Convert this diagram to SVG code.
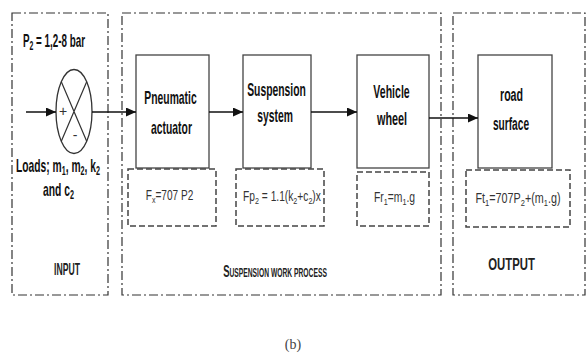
<svg xmlns="http://www.w3.org/2000/svg" width="586" height="355" viewBox="0 0 586 355">
  <style>
    .frame { fill: none; stroke: #333; stroke-width: 1.2; stroke-dasharray: 9 3 2 3; }
    .block { fill: #fff; stroke: #444; stroke-width: 1.3; }
    .eq { fill: none; stroke: #444; stroke-width: 1.5; stroke-dasharray: 6 3; }
    .wire { fill: none; stroke: #111; stroke-width: 1.5; }
    text { text-anchor: middle; }
    .lbl { font-family: "Liberation Sans", Arial, sans-serif; font-weight: bold; font-size: 19px; fill: #111; }
    .in { font-family: "Liberation Sans", Arial, sans-serif; font-weight: bold; font-size: 18px; fill: #111; }
    .tag { font-family: "Liberation Sans", Arial, sans-serif; font-weight: bold; font-size: 16px; fill: #222; }
    .fx { font-family: "Liberation Sans", Arial, sans-serif; font-size: 14px; fill: #333; }
    .cap { font-family: "Liberation Serif", "Times New Roman", serif; font-size: 14px; fill: #444; }
    .sub { font-size: 70%; }
  </style>
  <defs>
    <marker id="head" markerWidth="11" markerHeight="10" refX="10" refY="4.5" orient="auto" markerUnits="userSpaceOnUse">
      <path d="M0,0 L10,4.5 L0,9 Z" fill="#111"/>
    </marker>
  </defs>

  <rect width="586" height="355" fill="#fff"/>

  <!-- stage frames -->
  <g id="input">
    <rect class="frame" x="12" y="13" width="96" height="282"/>
    <text class="in" transform="translate(54,47) scale(0.546,1)">P<tspan class="sub" dy="3">2</tspan><tspan dy="-3"> = 1,2-8 bar</tspan></text>
    <text class="in" transform="translate(58,172) scale(0.571,1)">Loads; m<tspan class="sub" dy="3">1</tspan><tspan dy="-3">, m</tspan><tspan class="sub" dy="3">2</tspan><tspan dy="-3">, k</tspan><tspan class="sub" dy="3">2</tspan></text>
    <text class="in" transform="translate(58.5,196) scale(0.574,1)">and c<tspan class="sub" dy="3">2</tspan></text>
    <text class="tag" transform="translate(67,275) scale(0.54,1)">INPUT</text>
  </g>

  <g id="process">
    <rect class="frame" x="122" y="13" width="319" height="282"/>
    <text class="tag" transform="translate(275,277) scale(0.56,1)"><tspan font-size="17">S</tspan><tspan font-size="12">USPENSION WORK PROCESS</tspan></text>
  </g>

  <g id="output">
    <rect class="frame" x="453" y="13" width="132" height="282"/>
    <text class="tag" transform="translate(511.5,270) scale(0.71,1)">OUTPUT</text>
  </g>

  <!-- summing junction -->
  <g id="junction">
    <ellipse cx="74" cy="111.5" rx="18" ry="42" fill="#fff" stroke="#333" stroke-width="1.3"/>
    <path d="M61.3,81.8 L86.7,141.2 M86.7,81.8 L61.3,141.2" stroke="#333" stroke-width="1.2" fill="none"/>
    <text class="fx" x="63" y="116" font-size="9">+</text>
    <text class="fx" x="75" y="140" font-size="10">-</text>
  </g>

  <!-- process blocks -->
  <g id="actuator">
    <rect class="block" x="136" y="55" width="73" height="113"/>
    <text class="lbl" transform="translate(170.5,104) scale(0.545,1)">Pneumatic</text>
    <text class="lbl" transform="translate(171.5,134) scale(0.545,1)">actuator</text>
  </g>
  <g id="suspension">
    <rect class="block" x="243" y="55" width="68" height="113"/>
    <text class="lbl" transform="translate(276.5,96) scale(0.545,1)">Suspension</text>
    <text class="lbl" transform="translate(275,122) scale(0.545,1)">system</text>
  </g>
  <g id="wheel">
    <rect class="block" x="357" y="55" width="72" height="113"/>
    <text class="lbl" transform="translate(391.5,98) scale(0.555,1)">Vehicle</text>
    <text class="lbl" transform="translate(392,125) scale(0.57,1)">wheel</text>
  </g>
  <g id="road">
    <rect class="block" x="478" y="55" width="74" height="113"/>
    <text class="lbl" transform="translate(511.5,101) scale(0.56,1)">road</text>
    <text class="lbl" transform="translate(511,130) scale(0.535,1)">surface</text>
  </g>

  <!-- force equations -->
  <g id="eq-actuator">
    <rect class="eq" x="128" y="169" width="88" height="57"/>
    <text class="fx" transform="translate(169.5,200) scale(0.72,1)">F<tspan class="sub" dy="3">x</tspan><tspan dy="-3">=707 P2</tspan></text>
  </g>
  <g id="eq-suspension">
    <rect class="eq" x="236" y="169" width="88" height="57"/>
    <text class="fx" transform="translate(282,201) scale(0.73,1)">Fp<tspan class="sub" dy="3">2</tspan><tspan dy="-3"> = 1.1(k</tspan><tspan class="sub" dy="3">2</tspan><tspan dy="-3">+c</tspan><tspan class="sub" dy="3">2</tspan><tspan dy="-3">)x</tspan></text>
  </g>
  <g id="eq-wheel">
    <rect class="eq" x="357" y="172" width="72" height="54"/>
    <text class="fx" transform="translate(394.5,202) scale(0.74,1)">Fr<tspan class="sub" dy="3">1</tspan><tspan dy="-3">=m</tspan><tspan class="sub" dy="3">1</tspan><tspan dy="-3">.g</tspan></text>
  </g>
  <g id="eq-road">
    <rect class="eq" x="466" y="170" width="104" height="57"/>
    <text class="fx" transform="translate(518,203) scale(0.77,1)">Ft<tspan class="sub" dy="3">1</tspan><tspan dy="-3">=707P</tspan><tspan class="sub" dy="3">2</tspan><tspan dy="-3">+(m</tspan><tspan class="sub" dy="3">1</tspan><tspan dy="-3">.g)</tspan></text>
  </g>

  <!-- connectors -->
  <g id="connectors">
    <path class="wire" d="M26,112 L56,112" marker-end="url(#head)"/>
    <path class="wire" d="M92,112 L136,112" marker-end="url(#head)"/>
    <path class="wire" d="M209,112 L243,112" marker-end="url(#head)"/>
    <path class="wire" d="M311,112 L357,112" marker-end="url(#head)"/>
    <path class="wire" d="M429,118 L478,118" marker-end="url(#head)"/>
  </g>

  <text class="cap" x="293" y="349">(b)</text>
</svg>
